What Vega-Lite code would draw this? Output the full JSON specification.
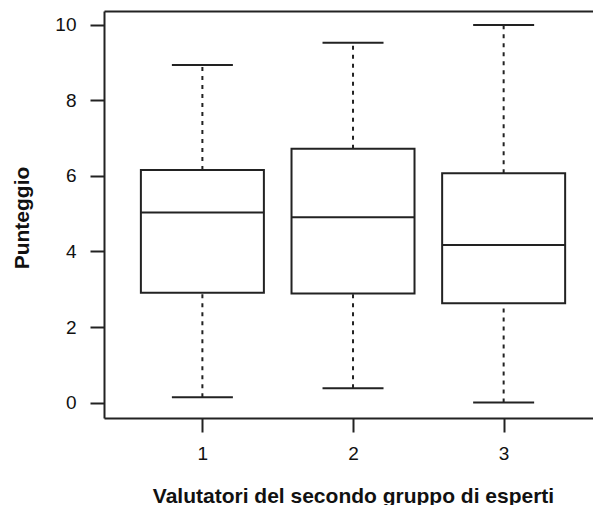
{
  "$schema": "https://vega.github.io/schema/vega-lite/v6.json",
  "width": 489,
  "height": 407,
  "autosize": {"type": "none"},
  "padding": {"left": 104, "top": 11, "right": 0, "bottom": 87},
  "background": "white",
  "config": {
    "view": {"stroke": null},
    "font": "Liberation Sans",
    "axis": {
      "domainColor": "#222",
      "domainWidth": 2,
      "tickColor": "#222",
      "tickWidth": 2,
      "tickSize": 14,
      "grid": false,
      "labelFont": "Liberation Sans",
      "labelFontSize": 19,
      "labelColor": "#111",
      "titleFont": "Liberation Sans",
      "titleFontSize": 21,
      "titleFontWeight": "bold",
      "titleColor": "#111"
    }
  },
  "data": {
    "values": [
      {"gruppo": 1, "min": 0.14, "q1": 2.91, "mediana": 5.03, "q3": 6.16, "max": 8.94},
      {"gruppo": 2, "min": 0.38, "q1": 2.89, "mediana": 4.91, "q3": 6.72, "max": 9.53},
      {"gruppo": 3, "min": 0.0, "q1": 2.63, "mediana": 4.17, "q3": 6.07, "max": 10.0}
    ]
  },
  "layer": [
    {
      "encoding": {
        "x": {
          "field": "gruppo",
          "type": "quantitative",
          "title": "Valutatori del secondo gruppo di esperti",
          "scale": {"domain": [0.38, 3.56], "nice": false, "zero": false},
          "axis": {
            "orient": "bottom",
            "values": [1, 2, 3],
            "labelFontSize": 19,
            "labelPadding": 12,
            "titleX": 249,
            "titleY": 84,
            "titleBaseline": "alphabetic"
          }
        }
      },
      "layer": [
        {
          "mark": {"type": "rule", "strokeDash": [4, 5], "strokeWidth": 2, "color": "#222"},
          "encoding": {
            "y": {
              "field": "min",
              "type": "quantitative",
              "title": "Punteggio",
              "scale": {"domain": [-0.41, 10.37], "nice": false, "zero": false},
              "axis": {
                "values": [0, 2, 4, 6, 8, 10],
                "labelFontSize": 19,
                "labelPadding": 14,
                "titleX": -76,
                "titleY": 206.5,
                "titleBaseline": "alphabetic",
                "titleAngle": -90
              }
            },
            "y2": {"field": "q1"}
          }
        },
        {
          "mark": {"type": "rule", "strokeDash": [4, 5], "strokeWidth": 2, "color": "#222"},
          "encoding": {
            "y": {"field": "q3", "type": "quantitative", "title": "Punteggio"},
            "y2": {"field": "max"}
          }
        },
        {
          "mark": {"type": "bar", "size": 123, "fill": "white", "stroke": "#222", "strokeWidth": 2},
          "encoding": {
            "y": {"field": "q1", "type": "quantitative", "title": "Punteggio"},
            "y2": {"field": "q3"}
          }
        },
        {
          "mark": {"type": "tick", "orient": "horizontal", "size": 123, "thickness": 2, "color": "#222", "opacity": 1},
          "encoding": {
            "y": {"field": "mediana", "type": "quantitative", "title": "Punteggio"}
          }
        },
        {
          "mark": {"type": "tick", "orient": "horizontal", "size": 61, "thickness": 2, "color": "#222", "opacity": 1},
          "encoding": {
            "y": {"field": "min", "type": "quantitative", "title": "Punteggio"}
          }
        },
        {
          "mark": {"type": "tick", "orient": "horizontal", "size": 61, "thickness": 2, "color": "#222", "opacity": 1},
          "encoding": {
            "y": {"field": "max", "type": "quantitative", "title": "Punteggio"}
          }
        }
      ]
    },
    {
      "mark": {"type": "point", "opacity": 0},
      "encoding": {
        "x": {
          "field": "gruppo",
          "type": "quantitative",
          "axis": {"orient": "top", "labels": false, "ticks": false, "title": null, "domain": true}
        }
      }
    }
  ],
  "resolve": {"axis": {"x": "independent"}}
}
